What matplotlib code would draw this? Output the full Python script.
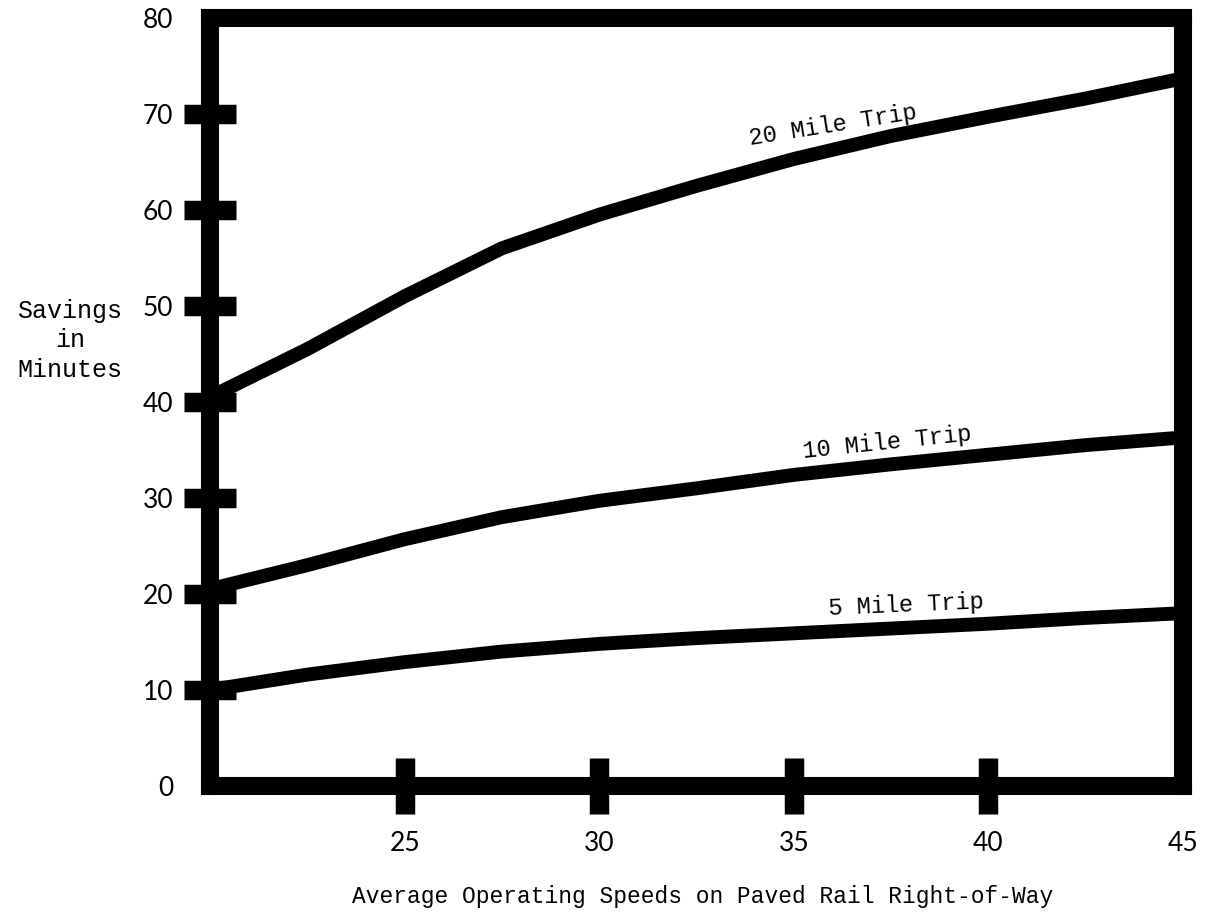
import matplotlib
matplotlib.use("Agg")
import matplotlib.pyplot as plt

# speeds (mph) and savings (minutes)
speed = [20, 22.5, 25, 27.5, 30, 32.5, 35, 37.5, 40, 42.5, 45]
trip_20 = [40.5, 45.5, 51.0, 56.0, 59.5, 62.5, 65.3, 67.7, 69.7, 71.6, 73.7]
trip_10 = [20.5, 23.0, 25.7, 28.0, 29.7, 31.0, 32.4, 33.5, 34.5, 35.5, 36.3]
trip_5 = [10.0, 11.6, 12.9, 14.0, 14.8, 15.4, 15.9, 16.4, 16.9, 17.5, 18.0]

x_ticks = [25, 30, 35, 40, 45]
y_ticks = [0, 10, 20, 30, 40, 50, 60, 70, 80]

mono = "Liberation Mono"
sans = "Lato"

fig = plt.figure(figsize=(12.07, 9.21), dpi=100)
ax = fig.add_axes([0.174, 0.1466, 0.806, 0.834])

for yy in (trip_20, trip_10, trip_5):
    ax.plot(speed, yy, color="black", lw=10, solid_capstyle="butt",
            solid_joinstyle="round", clip_on=False, zorder=3)

ax.set_xlim(20, 45)
ax.set_ylim(0, 80)

for s in ax.spines.values():
    s.set_linewidth(13)
    s.set_capstyle("projecting")

ax.set_xticks(x_ticks)
ax.set_yticks(y_ticks)
ax.tick_params(axis="x", direction="inout", length=41, width=14, pad=12,
               labelsize=19)
ax.tick_params(axis="y", direction="inout", length=37, width=14, pad=8,
               labelsize=19)
for lab in ax.get_xticklabels() + ax.get_yticklabels():
    lab.set_fontfamily(sans)

# frame edges already act as the tick bars at the ends
ax.xaxis.get_major_ticks()[-1].tick1line.set_visible(False)
ax.yaxis.get_major_ticks()[0].tick1line.set_visible(False)
ax.yaxis.get_major_ticks()[-1].tick1line.set_visible(False)

ax.text(36.0, 68.8, "20 Mile Trip", rotation=9, ha="center", va="center",
        family=mono, fontsize=17)
ax.text(37.4, 35.8, "10 Mile Trip", rotation=6, ha="center", va="center",
        family=mono, fontsize=17)
ax.text(37.9, 18.8, "5 Mile Trip", rotation=2.5, ha="center", va="center",
        family=mono, fontsize=17)

ax.set_ylabel("Savings\nin\nMinutes", rotation=0, ha="center", va="center",
              family=mono, fontsize=18, linespacing=1.3)
ax.yaxis.set_label_coords(-0.144, 0.58)
ax.set_xlabel("Average Operating Speeds on Paved Rail Right-of-Way",
              family=mono, fontsize=16.5)
ax.xaxis.set_label_coords(0.506, -0.1445)
ax.xaxis.label.set_va("center")

fig.savefig("out.png", dpi=100)
